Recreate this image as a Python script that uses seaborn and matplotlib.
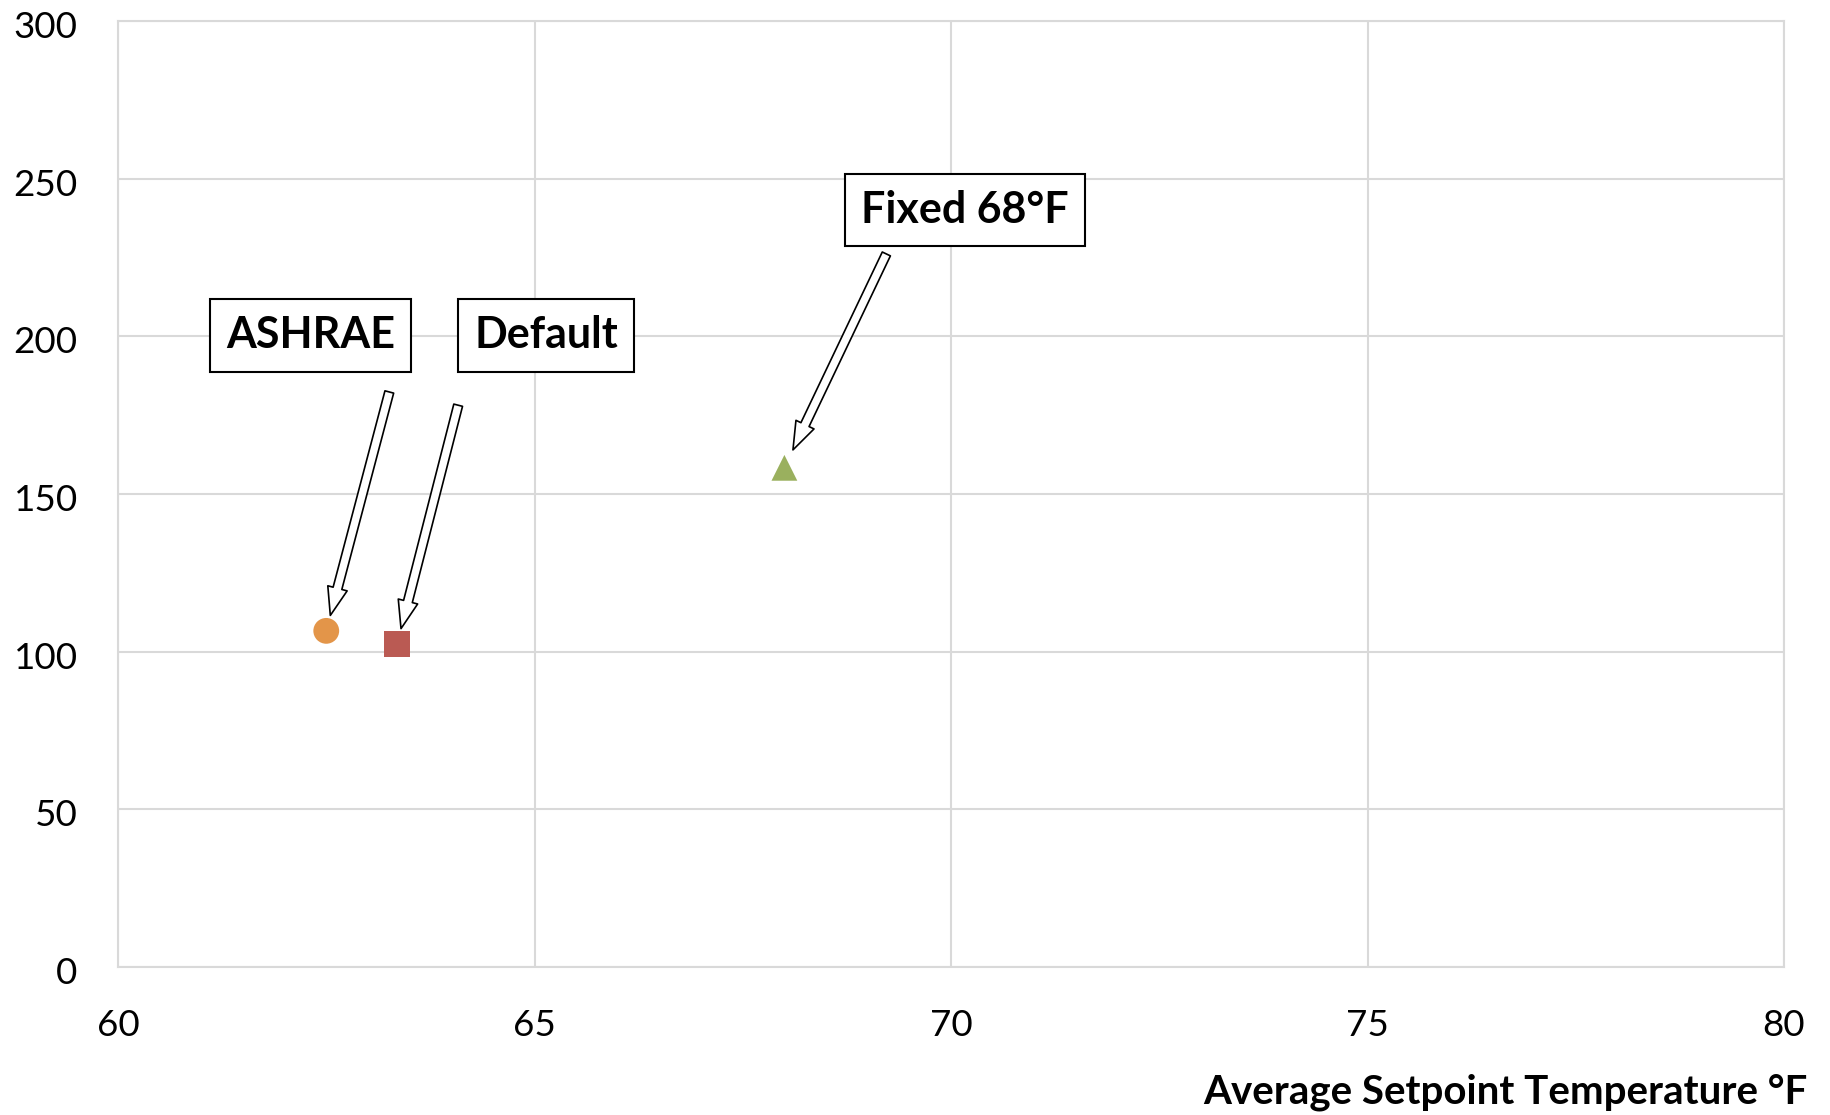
import matplotlib
matplotlib.use("Agg")
import matplotlib.pyplot as plt
import matplotlib.transforms as mtransforms
import seaborn as sns
import pandas as pd

# ---- data ----
scenarios = ["ASHRAE", "Default", "Fixed 68°F"]
setpoint_temp = [62.5, 63.35, 68.0]
values = [106.6, 102.4, 158.3]
colors = ["#E39549", "#BA5A53", "#9AB05E"]
markers = ["o", "s", "^"]
x_ticks = [60, 65, 70, 75, 80]
y_ticks = [0, 50, 100, 150, 200, 250, 300]
x_label = "Average Setpoint Temperature °F"

df = pd.DataFrame({"scenario": scenarios, "temp": setpoint_temp, "value": values})

sns.set_theme(style="white")
plt.rcParams["font.family"] = ["Lato", "DejaVu Sans"]

fig = plt.figure(figsize=(18.31, 11.15), dpi=100)
ax = fig.add_axes([118 / 1831, 1 - 967 / 1115, 1666 / 1831, 946 / 1115])

sns.scatterplot(data=df, x="temp", y="value", hue="scenario", style="scenario",
                palette=dict(zip(scenarios, colors)),
                markers=dict(zip(scenarios, markers)),
                s=345, linewidth=0, legend=False, ax=ax, zorder=3)

ax.set_xlim(60, 80)
ax.set_ylim(0, 300)
ax.set_xticks(x_ticks)
ax.set_yticks(y_ticks)
ax.set_xticklabels([str(t) for t in x_ticks])
ax.set_yticklabels([str(t) for t in y_ticks])
ax.tick_params(axis="both", length=0, labelsize=26.5, colors="black")
ax.tick_params(axis="x", pad=30)
ax.tick_params(axis="y", pad=29)
shift = mtransforms.ScaledTranslation(0, -3.5 / 100, fig.dpi_scale_trans)
for lbl in ax.get_yticklabels():
    lbl.set_transform(lbl.get_transform() + shift)
ax.grid(True, color="#d9d9d9", linewidth=1.5)
for sp in ax.spines.values():
    sp.set_color("#d9d9d9")
    sp.set_linewidth(1.5)
ax.set_xlabel("")
ax.set_ylabel("")

fig.text(1808 / 1831, 1 - 1092 / 1115, x_label, ha="right", va="center",
         fontsize=29, fontweight="bold", color="black")

# ---- annotation boxes ----
box_pos = {"ASHRAE": (62.31, 200.3), "Default": (65.14, 200.3), "Fixed 68°F": (70.17, 240.1)}
for name in scenarios:
    bx, by = box_pos[name]
    ax.text(bx, by, name, ha="center", va="center", fontsize=31, fontweight="bold",
            color="black", zorder=5,
            bbox=dict(boxstyle="square,pad=0.38", facecolor="white",
                      edgecolor="black", linewidth=1.5))

# ---- arrows ----
arrow_off = {"ASHRAE": ((45.4, 172), 11.5), "Default": ((44, 172), 11.5),
             "Fixed 68°F": ((73.4, 154), 14.3)}
for name, tx, ty in zip(scenarios, setpoint_temp, values):
    (dx, dy), shr = arrow_off[name]
    ax.annotate("", xy=(tx, ty), xytext=(dx, dy), textcoords="offset points",
                zorder=4,
                arrowprops=dict(arrowstyle="simple,head_length=1.4,head_width=1.0,tail_width=0.45",
                                mutation_scale=14.4, facecolor="white",
                                edgecolor="black", linewidth=1.2,
                                shrinkA=0, shrinkB=shr))

fig.savefig("out.png", dpi=100)
